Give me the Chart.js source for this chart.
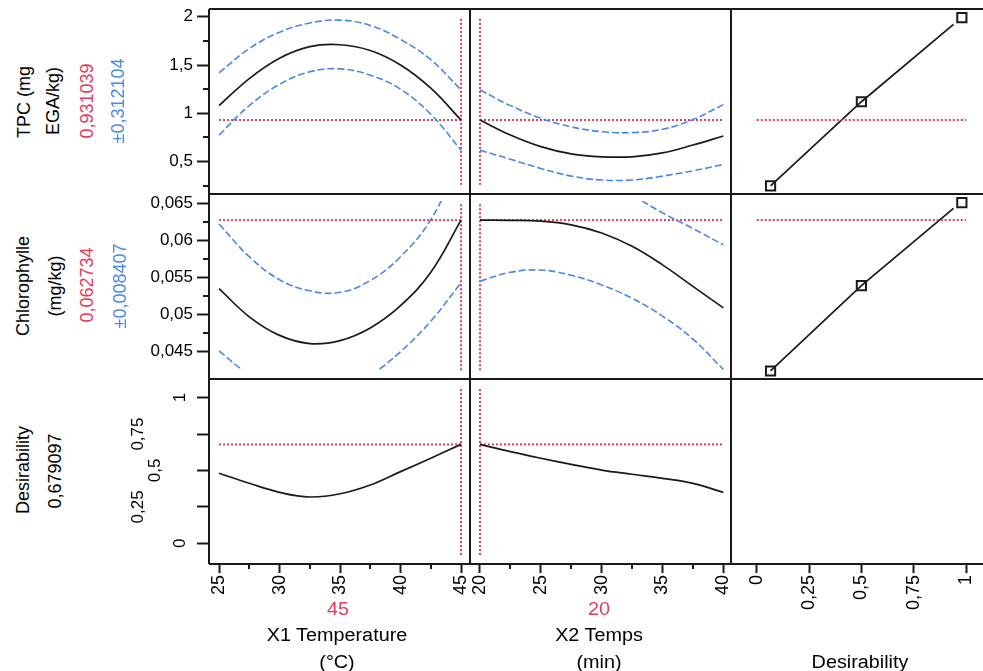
<!DOCTYPE html>
<html>
<head>
<meta charset="utf-8">
<script src="https://cdn.jsdelivr.net/npm/chart.js@4.4.1/dist/chart.umd.min.js"></script>
<style>
  html, body { margin: 0; padding: 0; background: #fff; }
  #page { position: relative; width: 983px; height: 671px; overflow: hidden;
          font-family: "Liberation Sans", Arial, sans-serif; }
  #page canvas { position: absolute; }
  .lbl { position: absolute; white-space: nowrap; font-size: 18px; line-height: 1; color: #000;
         transform: translate(-50%, -50%) scaleX(1.1); }
  .rot { transform: translate(-50%, -50%) rotate(-90deg); }
  .red { color: #e8395a; }
  .blue { color: #4a87e8; }
</style>
</head>
<body>
<div id="page"></div>
<script>
// factor grids
const tempX = [25, 27.5, 30, 32.5, 35, 37.5, 40, 42.5, 45];
const timeX = [20, 22.5, 25, 27.5, 30, 32.5, 35, 37.5, 40];

// TPC profiles (mean and confidence band)
const tpcByTemp   = [1.08, 1.36, 1.57, 1.69, 1.71, 1.65, 1.50, 1.26, 0.931];
const tpcByTempHi = [1.42, 1.67, 1.84, 1.935, 1.965, 1.91, 1.765, 1.555, 1.243];
const tpcByTempLo = [0.775, 1.08, 1.30, 1.43, 1.46, 1.395, 1.25, 0.99, 0.619];
const tpcByTime   = [0.931, 0.775, 0.655, 0.58, 0.55, 0.55, 0.59, 0.672, 0.765];
const tpcByTimeHi = [1.243, 1.08, 0.95, 0.86, 0.81, 0.80, 0.835, 0.935, 1.09];
const tpcByTimeLo = [0.619, 0.525, 0.43, 0.35, 0.31, 0.31, 0.35, 0.405, 0.47];

// Chlorophylle profiles
const chlByTemp   = [0.0535, 0.0497, 0.0472, 0.0461, 0.0465, 0.0482, 0.0512, 0.0557, 0.062734];
const chlByTempHi = [0.0622, 0.0578, 0.0547, 0.0532, 0.0530, 0.0546, 0.0578, 0.0628, 0.0711];
const chlByTempLo = [0.0451, 0.0419, 0.0399, 0.0390, 0.0396, 0.0418, 0.0450, 0.0491, 0.0543];
const chlByTime   = [0.062734, 0.0627, 0.0626, 0.0621, 0.0610, 0.0592, 0.0567, 0.0538, 0.0509];
const chlByTimeHi = [0.0709, 0.0695, 0.0692, 0.0690, 0.0682, 0.0661, 0.0637, 0.0616, 0.0594];
const chlByTimeLo = [0.0545, 0.0557, 0.0560, 0.0553, 0.0540, 0.0522, 0.0498, 0.0467, 0.0426];

// overall desirability profiles
const desByTemp = [0.481, 0.412, 0.350, 0.318, 0.340, 0.400, 0.492, 0.584, 0.679097];
const desByTime = [0.679097, 0.629, 0.584, 0.542, 0.503, 0.474, 0.446, 0.412, 0.350];

// desirability functions (handles + traced line)
const desirX        = [0.066, 0.5, 0.98];
const tpcDesirY     = [0.25, 1.12, 1.99];
const chlDesirY     = [0.0424, 0.0539, 0.0651];
const desirLineX    = [0.066, 0.5, 0.94];
const tpcDesirLineY = [0.25, 1.12, 1.92];
const chlDesirLineY = [0.0424, 0.0539, 0.0643];

// current settings / predictions
const currentTemp = 45;
const currentTime = 20;
const predTpc = 0.931039, ciTpc = 0.312104;
const predChl = 0.062734, ciChl = 0.008407;
const predDes = 0.679097;
const tpcCross = [0.26, 1.99];
const chlCross = [0.0425, 0.0650];
const desCross = [-0.08, 1.065];

// axes
const tempRange = [24.17, 45.74], tempTicks = [25, 30, 35, 40, 45], tempMinor = [27.5, 32.5, 37.5, 42.5];
const timeRange = [19.18, 40.63], timeTicks = [20, 25, 30, 35, 40], timeMinor = [22.5, 27.5, 32.5, 37.5];
const desirRange = [-0.123, 1.081], desirTicks = [0, 0.25, 0.5, 0.75, 1];
const tpcRange = [0.165, 2.08], tpcTicks = [0.5, 1, 1.5, 2], tpcMinor = [0.25, 0.75, 1.25, 1.75];
const chlRange = [0.04132, 0.06625], chlTicks = [0.045, 0.05, 0.055, 0.06, 0.065], chlMinor = [0.0475, 0.0525, 0.0575, 0.0625];
const desRange = [-0.142, 1.128], desTicks = [0, 0.25, 0.5, 0.75, 1];

(function () {
  "use strict";

  const RED = "#e8395a";
  const BLUE = "#4a87e8";
  const INK = "#1a1a1a";
  const page = document.getElementById("page");

  Chart.defaults.font.family = '"Liberation Sans", Arial, sans-serif';
  Chart.defaults.color = "#000";

  function comma(v) {
    return String(v).replace(".", ",");
  }

  function pts(xs, ys) {
    return xs.map(function (x, i) {
      return { x: x, y: ys[i] };
    });
  }

  function curve(xs, ys, color, dash) {
    return {
      data: pts(xs, ys),
      borderColor: color,
      borderWidth: color === INK ? 1.7 : 1.6,
      borderDash: dash || [],
      pointRadius: 0,
      tension: 0.4,
      // JMP stops the bands a little inside the cell frame
      clip: { left: 0, right: 0, top: -7, bottom: -9 },
      fill: false,
    };
  }

  function cross(xs, ys) {
    return {
      data: pts(xs, ys),
      borderColor: RED,
      borderWidth: 2,
      borderDash: [2, 2],
      pointRadius: 0,
      tension: 0,
      clip: 0,
      fill: false,
    };
  }

  function handles(xs, ys) {
    return {
      data: pts(xs, ys),
      showLine: false,
      pointStyle: "rect",
      pointRadius: 6.5,
      borderWidth: 2,
      pointBorderColor: INK,
      pointBackgroundColor: "rgba(0,0,0,0)",
      clip: 0,
    };
  }

  // panel frame (JMP draws a box round every cell, none on the far right)
  const frame = {
    id: "frame",
    afterDatasetsDraw(chart, args, o) {
      const a = chart.chartArea;
      const ctx = chart.ctx;
      ctx.save();
      ctx.strokeStyle = INK;
      ctx.lineWidth = 2;
      ctx.beginPath();
      ctx.moveTo(a.left, a.top);
      ctx.lineTo(a.right, a.top);
      ctx.moveTo(a.left, a.top);
      ctx.lineTo(a.left, a.bottom);
      ctx.moveTo(a.left, a.bottom);
      ctx.lineTo(a.right, a.bottom);
      if (o.right) {
        ctx.moveTo(a.right, a.top);
        ctx.lineTo(a.right, a.bottom);
      }
      ctx.stroke();
      ctx.restore();
    },
  };

  // short unlabeled ticks between the major ones
  const minorTicks = {
    id: "minorTicks",
    afterDraw(chart, args, o) {
      const a = chart.chartArea;
      const ctx = chart.ctx;
      ctx.save();
      ctx.strokeStyle = INK;
      ctx.lineWidth = 2;
      ctx.beginPath();
      (o.x || []).forEach(function (v) {
        const p = Math.round(chart.scales.x.getPixelForValue(v));
        ctx.moveTo(p, a.bottom);
        ctx.lineTo(p, a.bottom + 5);
      });
      (o.y || []).forEach(function (v) {
        const p = Math.round(chart.scales.y.getPixelForValue(v));
        ctx.moveTo(a.left - 6, p);
        ctx.lineTo(a.left, p);
      });
      ctx.stroke();
      ctx.restore();
    },
  };

  function fixTicks(list) {
    return function (s) {
      s.ticks = list.map(function (v) {
        return { value: v };
      });
    };
  }

  function xAxis(range, ticks, show) {
    return {
      type: "linear",
      min: range[0],
      max: range[1],
      display: show,
      position: "bottom",
      afterBuildTicks: fixTicks(ticks),
      afterFit: function (s) {
        s.height = show ? 107 : 0;
        s.paddingLeft = 0;
        s.paddingRight = 0;
        s.paddingTop = 0;
        s.paddingBottom = 0;
      },
      grid: { drawOnChartArea: false, tickLength: 9, tickWidth: 2, tickColor: INK },
      border: { display: false },
      ticks: {
        autoSkip: false,
        minRotation: 90,
        maxRotation: 90,
        padding: 2,
        font: { size: 18 },
        callback: function (v) {
          return comma(v);
        },
      },
    };
  }

  function yAxis(range, ticks, show, rotated) {
    const ax = {
      type: "linear",
      min: range[0],
      max: range[1],
      display: show,
      position: "left",
      afterBuildTicks: fixTicks(ticks),
      afterFit: function (s) {
        s.width = show ? 109 : 0;
        s.paddingTop = 0;
        s.paddingBottom = 0;
        s.paddingLeft = 0;
        s.paddingRight = 0;
      },
      grid: { drawOnChartArea: false, tickLength: 12, tickWidth: 2, tickColor: INK },
      border: { display: false },
      ticks: {
        autoSkip: false,
        padding: 4,
        font: { size: 17 },
        callback: function (v) {
          return comma(v);
        },
      },
    };
    if (rotated) {
      // JMP staggers the upright desirability labels
      const shift = [0, 5, 3, 5, 0];
      ax.ticks = {
        autoSkip: false,
        minRotation: 90,
        maxRotation: 90,
        crossAlign: "center",
        padding: 0,
        font: { size: 17, lineHeight: 1 },
        callback: function (v, i) {
          const n = shift[i] || 0;
          return n ? [comma(v)].concat(new Array(n).fill("")) : comma(v);
        },
      };
    }
    return ax;
  }

  function panel(o) {
    const c = document.createElement("canvas");
    c.width = o.w;
    c.height = o.h;
    c.style.left = o.left + "px";
    c.style.top = o.top + "px";
    c.style.width = o.w + "px";
    c.style.height = o.h + "px";
    page.appendChild(c);
    return new Chart(c, {
      type: "line",
      data: { datasets: o.datasets },
      options: {
        responsive: false,
        animation: false,
        events: [],
        layout: { autoPadding: false, padding: { top: o.padTop || 0, left: 0, right: 0, bottom: 0 } },
        plugins: {
          legend: { display: false },
          tooltip: { enabled: false },
          frame: { right: o.right !== false },
          minorTicks: { x: o.xMinor, y: o.yMinor },
        },
        scales: { x: o.x, y: o.y },
      },
      plugins: [frame, minorTicks],
    });
  }

  const tEnds = [tempX[0], tempX[tempX.length - 1]];
  const mEnds = [timeX[0], timeX[timeX.length - 1]];
  const dEnds = [desirTicks[0], desirTicks[desirTicks.length - 1]];

  // row 1: TPC
  panel({
    left: 100, top: 0, w: 370, h: 194, padTop: 9,
    x: xAxis(tempRange, tempTicks, false), y: yAxis(tpcRange, tpcTicks, true),
    yMinor: tpcMinor,
    datasets: [
      curve(tempX, tpcByTempHi, BLUE, [7, 3]),
      curve(tempX, tpcByTempLo, BLUE, [7, 3]),
      curve(tempX, tpcByTemp, INK),
      cross(tEnds, [predTpc, predTpc]),
      cross([currentTemp, currentTemp], tpcCross),
    ],
  });
  panel({
    left: 470, top: 0, w: 261, h: 194, padTop: 9,
    x: xAxis(timeRange, timeTicks, false), y: yAxis(tpcRange, tpcTicks, false),
    datasets: [
      curve(timeX, tpcByTimeHi, BLUE, [7, 3]),
      curve(timeX, tpcByTimeLo, BLUE, [7, 3]),
      curve(timeX, tpcByTime, INK),
      cross(mEnds, [predTpc, predTpc]),
      cross([currentTime, currentTime], tpcCross),
    ],
  });
  panel({
    left: 731, top: 0, w: 252, h: 194, padTop: 9, right: false,
    x: xAxis(desirRange, desirTicks, false), y: yAxis(tpcRange, tpcTicks, false),
    datasets: [
      cross(dEnds, [predTpc, predTpc]),
      { data: pts(desirLineX, tpcDesirLineY), borderColor: INK, borderWidth: 1.7, pointRadius: 0, tension: 0, clip: 0 },
      handles(desirX, tpcDesirY),
    ],
  });

  // row 2: Chlorophylle
  panel({
    left: 100, top: 194, w: 370, h: 185,
    x: xAxis(tempRange, tempTicks, false), y: yAxis(chlRange, chlTicks, true),
    yMinor: chlMinor,
    datasets: [
      curve(tempX, chlByTempHi, BLUE, [7, 3]),
      curve(tempX, chlByTempLo, BLUE, [7, 3]),
      curve(tempX, chlByTemp, INK),
      cross(tEnds, [predChl, predChl]),
      cross([currentTemp, currentTemp], chlCross),
    ],
  });
  panel({
    left: 470, top: 194, w: 261, h: 185,
    x: xAxis(timeRange, timeTicks, false), y: yAxis(chlRange, chlTicks, false),
    datasets: [
      curve(timeX, chlByTimeHi, BLUE, [7, 3]),
      curve(timeX, chlByTimeLo, BLUE, [7, 3]),
      curve(timeX, chlByTime, INK),
      cross(mEnds, [predChl, predChl]),
      cross([currentTime, currentTime], chlCross),
    ],
  });
  panel({
    left: 731, top: 194, w: 252, h: 185, right: false,
    x: xAxis(desirRange, desirTicks, false), y: yAxis(chlRange, chlTicks, false),
    datasets: [
      cross(dEnds, [predChl, predChl]),
      { data: pts(desirLineX, chlDesirLineY), borderColor: INK, borderWidth: 1.7, pointRadius: 0, tension: 0, clip: 0 },
      handles(desirX, chlDesirY),
    ],
  });

  // row 3: Desirability
  panel({
    left: 100, top: 379, w: 370, h: 292,
    x: xAxis(tempRange, tempTicks, true), y: yAxis(desRange, desTicks, true, true),
    xMinor: tempMinor,
    datasets: [
      curve(tempX, desByTemp, INK),
      cross(tEnds, [predDes, predDes]),
      cross([currentTemp, currentTemp], desCross),
    ],
  });
  panel({
    left: 470, top: 379, w: 261, h: 292,
    x: xAxis(timeRange, timeTicks, true), y: yAxis(desRange, desTicks, false),
    xMinor: timeMinor,
    datasets: [
      curve(timeX, desByTime, INK),
      cross(mEnds, [predDes, predDes]),
      cross([currentTime, currentTime], desCross),
    ],
  });
  panel({
    left: 731, top: 379, w: 252, h: 292, right: false,
    x: xAxis(desirRange, desirTicks, true), y: yAxis(desRange, desTicks, false),
    datasets: [],
  });

  // text round the grid
  function label(text, cx, cy, cls) {
    const d = document.createElement("div");
    d.className = "lbl " + (cls || "");
    d.textContent = text;
    d.style.left = cx + "px";
    d.style.top = cy + "px";
    page.appendChild(d);
  }

  label("TPC (mg", 24, 102, "rot");
  label("EGA/kg)", 53, 101, "rot");
  label(comma(predTpc), 87, 101, "rot red");
  label("±" + comma(ciTpc), 118, 101, "rot blue");

  label("Chlorophylle", 23, 286, "rot");
  label("(mg/kg)", 55, 286, "rot");
  label(comma(predChl), 87, 285, "rot red");
  label("±" + comma(ciChl), 120, 286, "rot blue");

  label("Desirability", 23, 470, "rot");
  label(comma(predDes), 55, 471, "rot");

  label(String(currentTemp), 338, 609, "red");
  label("X1 Temperature", 337, 635);
  label("(°C)", 337, 662);
  label(String(currentTime), 599, 609, "red");
  label("X2 Temps", 599, 635);
  label("(min)", 599, 662);
  label("Desirability", 860, 662);
})();
</script>
</body>
</html>
